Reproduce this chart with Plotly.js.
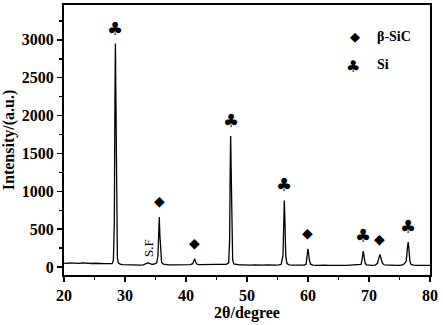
<!DOCTYPE html>
<html><head><meta charset="utf-8">
<script src="https://cdn.plot.ly/plotly-3.0.1.min.js"></script>
<style>html,body{margin:0;padding:0;background:#fff}#c{width:443px;height:325px}</style>
</head><body><div id="c"></div>
<script>
const twoTheta = [20.0,20.5,21.0,21.5,22.0,22.5,23.0,23.5,24.0,24.5,25.0,25.5,26.0,26.5,27.0,27.5,27.9,28.1,28.25,28.35,28.43,28.5,28.6,28.75,28.9,29.2,29.6,30.0,30.5,31.0,31.5,32.0,32.5,33.0,33.4,33.7,34.0,34.4,34.8,35.2,35.4,35.52,35.62,35.72,35.85,36.0,36.3,36.7,37.2,37.7,38.2,38.7,39.2,39.7,40.2,40.7,41.1,41.3,41.42,41.55,41.75,42.1,42.6,43.1,43.6,44.1,44.6,45.1,45.6,46.1,46.6,47.0,47.15,47.25,47.32,47.4,47.5,47.65,47.85,48.2,48.7,49.2,49.7,50.2,50.7,51.2,51.7,52.2,52.7,53.2,53.7,54.2,54.7,55.2,55.6,55.9,56.02,56.12,56.22,56.35,56.55,56.9,57.4,57.9,58.4,58.9,59.4,59.7,59.85,59.98,60.1,60.25,60.45,60.8,61.3,61.8,62.3,62.8,63.3,63.8,64.3,64.8,65.3,65.8,66.3,66.8,67.3,67.8,68.3,68.7,68.9,69.05,69.18,69.35,69.6,70.0,70.5,71.0,71.4,71.65,71.8,71.95,72.2,72.5,73.0,73.5,74.0,74.5,75.0,75.5,75.8,76.1,76.3,76.42,76.55,76.7,76.9,77.3,77.8,78.3,78.8,79.3,79.8,80.0];
const intensity = [52,48,55,50,53,49,54,50,52,47,50,46,48,44,45,42,45,90,600,2200,2950,2300,700,120,55,38,32,30,27,29,25,27,26,30,45,55,48,36,40,55,150,450,660,420,130,60,40,33,30,28,30,27,29,28,30,32,45,85,110,75,40,33,35,32,36,34,37,35,36,33,36,55,350,1300,1730,1300,400,90,42,32,28,30,26,28,25,27,24,26,25,27,24,26,25,28,35,150,620,880,600,150,45,30,25,23,25,22,26,40,130,240,180,80,38,26,23,25,22,24,21,23,22,24,21,23,22,24,22,23,24,35,110,210,150,55,28,24,23,26,50,130,165,120,50,28,24,22,23,21,24,28,42,80,250,330,230,80,35,24,22,23,21,22,21,22];

const siPeaks = [28.43, 47.32, 56.12, 69.05, 76.42];
const sicPeaks = [35.62, 41.42, 59.98, 71.8];
const legendLabels = ["β-SiC", "Si"];
const xTitle = "2θ/degree";
const yTitle = "Intensity/(a.u.)";
const sfLabel = "S.F";
const sfPos = 33.75;

const serif = "Liberation Serif";
function peakMax(px){let m=0;twoTheta.forEach((x,i)=>{if(Math.abs(x-px)<0.3&&intensity[i]>m)m=intensity[i];});return m;}

const ann = [];
siPeaks.forEach(p=>ann.push({x:p,y:peakMax(p),xref:'x',yref:'y',text:'♣',showarrow:false,yanchor:'bottom',yshift:3,font:{family:'DejaVu Sans',size:18,color:'#000'}}));
sicPeaks.forEach(p=>ann.push({x:p,y:peakMax(p),xref:'x',yref:'y',text:'◆',showarrow:false,yanchor:'bottom',yshift:6,font:{family:'DejaVu Sans',size:14,color:'#000'}}));
ann.push({x:sfPos,y:250,xref:'x',yref:'y',text:sfLabel,textangle:-90,showarrow:false,font:{family:serif,size:13,color:'#000'}});
ann.push({x:0.814,y:0.918,xref:'paper',yref:'paper',text:'◆',showarrow:false,font:{family:'DejaVu Sans',size:13,color:'#000'}});
ann.push({x:0.85,y:0.918,xref:'paper',yref:'paper',xanchor:'left',text:'<b>'+legendLabels[0]+'</b>',showarrow:false,font:{family:serif,size:14,color:'#000'}});
ann.push({x:0.814,y:0.815,xref:'paper',yref:'paper',text:'♣',showarrow:false,font:{family:'DejaVu Sans',size:16,color:'#000'}});
ann.push({x:0.85,y:0.815,xref:'paper',yref:'paper',xanchor:'left',text:'<b>'+legendLabels[1]+'</b>',showarrow:false,font:{family:serif,size:14,color:'#000'}});

const tf = {family:serif,size:16,weight:'bold',color:'#000'};
Plotly.newPlot('c',[{x:twoTheta,y:intensity,mode:'lines',line:{color:'#000',width:1.3},hoverinfo:'skip'}],{
  width:443,height:325,margin:{l:64,r:13,t:5,b:50},
  paper_bgcolor:'#fff',plot_bgcolor:'#fff',showlegend:false,
  xaxis:{range:[20,80],showgrid:false,zeroline:false,showline:true,linecolor:'#000',linewidth:2,mirror:true,
    ticks:'outside',tickwidth:1.5,ticklen:5,tickcolor:'#000',dtick:10,tick0:20,tickfont:tf,
    minor:{ticks:'outside',dtick:5,ticklen:3,tickwidth:1.5,tickcolor:'#000'},
    title:{text:'<b>'+xTitle+'</b>',font:tf,standoff:4}},
  yaxis:{range:[-105,3460],showgrid:false,zeroline:false,showline:true,linecolor:'#000',linewidth:2,mirror:true,
    ticks:'outside',tickwidth:1.5,ticklen:5,tickcolor:'#000',dtick:500,tick0:0,tickfont:tf,
    minor:{ticks:'outside',dtick:250,ticklen:3,tickwidth:1.5,tickcolor:'#000'},
    title:{text:'<b>'+yTitle+'</b>',font:tf,standoff:6}},
  annotations:ann
},{staticPlot:true});
</script></body></html>
